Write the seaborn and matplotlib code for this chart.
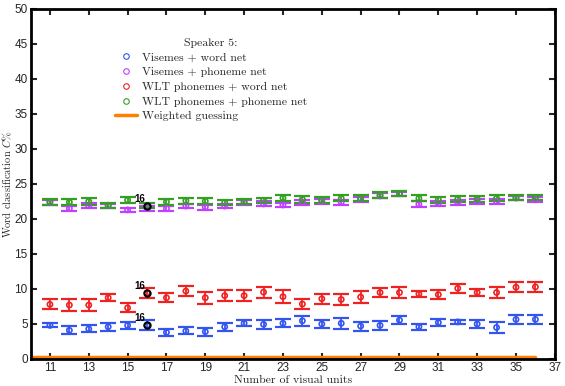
import matplotlib
matplotlib.use("Agg")
import matplotlib.pyplot as plt
import numpy as np
import pandas as pd
import seaborn as sns
from matplotlib.lines import Line2D

units = [11, 12, 13, 14, 15, 16, 17, 18, 19, 20, 21, 22, 23, 24,
         25, 26, 27, 28, 29, 30, 31, 32, 33, 34, 35, 36]

vis_word = [4.8, 4.1, 4.3, 4.6, 4.8, 4.8, 3.8, 4.0, 3.9, 4.6, 5.1, 4.95, 5.1, 5.45,
            5.0, 5.1, 4.7, 4.8, 5.55, 4.6, 5.2, 5.3, 5.0, 4.5, 5.65, 5.65]
vis_word_err = [0.3, 0.55, 0.5, 0.6, 0.45, 0.7, 0.5, 0.5, 0.55, 0.6, 0.4, 0.6, 0.6, 0.75,
                0.6, 0.8, 0.65, 0.6, 0.6, 0.4, 0.55, 0.3, 0.6, 0.75, 0.65, 0.65]

vis_phon = [22.35, 21.5, 21.9, 21.9, 21.3, 21.5, 21.5, 21.85, 21.7, 21.85, 22.35, 22.15, 22.0, 22.35,
            22.5, 22.4, 22.8, 23.3, 23.6, 22.1, 22.25, 22.4, 22.5, 22.5, 23.0, 22.75]
vis_phon_err = [0.35, 0.35, 0.35, 0.3, 0.3, 0.3, 0.35, 0.35, 0.35, 0.3, 0.3, 0.35, 0.35, 0.35,
                0.3, 0.35, 0.35, 0.35, 0.3, 0.4, 0.35, 0.35, 0.35, 0.35, 0.3, 0.35]

wlt_word = [7.8, 7.7, 7.7, 8.75, 7.3, 9.45, 8.75, 9.7, 8.75, 9.05, 9.05, 9.55, 8.9, 7.85,
            8.6, 8.5, 8.85, 9.5, 9.5, 9.3, 9.2, 10.1, 9.5, 9.5, 10.25, 10.3]
wlt_word_err = [0.7, 0.8, 0.8, 0.5, 0.65, 0.75, 0.65, 0.75, 0.85, 0.75, 0.75, 0.8, 0.9, 0.7,
                0.75, 0.8, 0.8, 0.7, 0.8, 0.45, 0.6, 0.65, 0.5, 0.8, 0.7, 0.75]

wlt_phon = [22.45, 22.4, 22.5, 21.95, 22.7, 21.9, 22.45, 22.6, 22.55, 22.35, 22.45, 22.65, 23.0, 22.8,
            22.7, 22.95, 22.95, 23.4, 23.65, 22.95, 22.75, 22.85, 22.85, 22.95, 23.05, 23.05]
wlt_phon_err = [0.45, 0.45, 0.45, 0.35, 0.45, 0.35, 0.45, 0.45, 0.45, 0.4, 0.35, 0.35, 0.45, 0.45,
                0.4, 0.45, 0.45, 0.45, 0.4, 0.45, 0.4, 0.4, 0.4, 0.45, 0.35, 0.4]

guess_units = [10, 11, 12, 13, 14, 15, 16, 17, 18, 19, 20, 21, 22, 23, 24,
               25, 26, 27, 28, 29, 30, 31, 32, 33, 34, 35, 36]
guess = [0.3, 0.3, 0.3, 0.3, 0.3, 0.3, 0.3, 0.3, 0.3, 0.3, 0.3, 0.3, 0.3, 0.3, 0.3,
         0.3, 0.3, 0.3, 0.3, 0.3, 0.3, 0.3, 0.3, 0.3, 0.3, 0.3, 0.3]

best_unit = 16

series = [
    ("Visemes + word net", vis_word, vis_word_err, "#3355ee"),
    ("Visemes + phoneme net", vis_phon, vis_phon_err, "#c040ff"),
    ("WLT phonemes + word net", wlt_word, wlt_word_err, "#ee2222"),
    ("WLT phonemes + phoneme net", wlt_phon, wlt_phon_err, "#33a022"),
]

sns.set_style("ticks")
plt.rcParams["mathtext.fontset"] = "cm"
plt.rcParams["font.family"] = ["Liberation Sans", "DejaVu Sans"]

fig = plt.figure(figsize=(5.65, 3.86), dpi=100)
ax = fig.add_axes([0.0540, 0.070, 0.928, 0.9067])

# weighted guessing baseline
sns.lineplot(x=guess_units, y=guess, ax=ax, color="#ff8000", lw=2.5, legend=False, zorder=1)

for name, vals, err, col in series:
    df = pd.DataFrame({"units": units, "val": vals})
    ax.errorbar(units, vals, yerr=err, fmt="none", ecolor=col, elinewidth=1.3,
                capsize=6, capthick=1.6, zorder=3)
    sns.scatterplot(data=df, x="units", y="val", ax=ax, marker="o", s=14,
                    facecolor="none", edgecolor=col, linewidth=1.2, zorder=4)
    i = units.index(best_unit)
    if name != "Visemes + phoneme net":
        ax.plot(units[i], vals[i], "o", ms=4.5, mfc="none", mec="black", mew=1.5, zorder=5)
        ax.annotate(str(best_unit), (units[i], vals[i]), xytext=(-5, 5),
                    textcoords="offset points", ha="center", va="center",
                    fontsize=7, fontweight="bold", color="black", zorder=6)

ax.set_xlim(10, 37)
ax.set_ylim(0, 50)
ax.set_xticks(range(11, 38, 2))
ax.set_yticks(range(0, 51, 5))
ax.tick_params(direction="in", top=True, right=True, length=4, width=1.5,
               labelsize=8.5, pad=2)
for sp in ax.spines.values():
    sp.set_linewidth(2)
    sp.set_color("black")
    sp.set_zorder(2)

ax.set_xlabel("Number of visual units", family="cmr10", fontsize=8.5, labelpad=1)
ax.set_ylabel("Word classification $C\\%$", family="cmr10", fontsize=7.5)
ax.yaxis.set_label_coords(-0.031, 0.5)

handles = [Line2D([], [], ls="none", marker="o", ms=4, mfc="none", mec=col, mew=0.8)
           for _, _, _, col in series]
handles.append(Line2D([], [], color="#ff8000", lw=2.5))
labels = [s[0] for s in series] + ["Weighted guessing"]
leg = ax.legend(handles, labels, title="Speaker 5:", loc="upper left",
                bbox_to_anchor=(0.149, 0.935), frameon=False, borderpad=0,
                prop={"family": "cmr10", "size": 8.5}, handlelength=1.9,
                handletextpad=0.4, labelspacing=0.38)
leg.get_title().set_fontfamily("cmr10")
leg.get_title().set_fontsize(8.5)

fig.savefig("out.png", dpi=100)
